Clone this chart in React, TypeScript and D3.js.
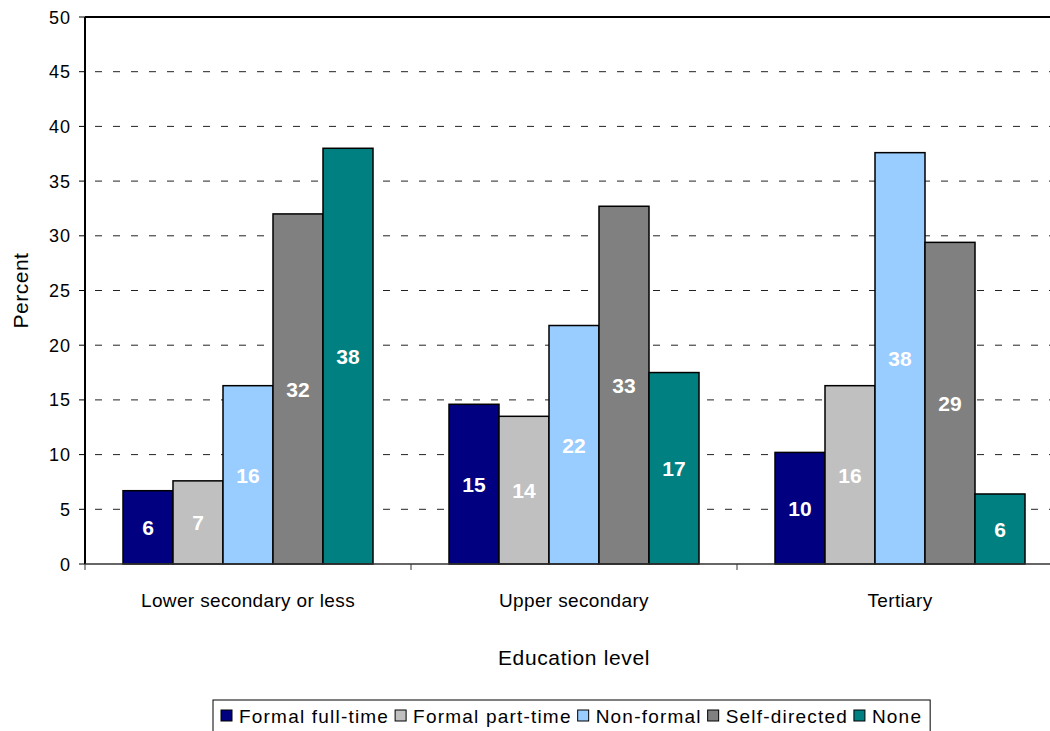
import React, { useEffect, useRef } from "react";
import * as d3 from "d3";

const categories = ["Lower secondary or less", "Upper secondary", "Tertiary"];
const seriesNames = ["Formal full-time", "Formal part-time", "Non-formal", "Self-directed", "None"];
const seriesColors = ["#000080", "#C0C0C0", "#99CCFF", "#808080", "#008080"];
// values per category (order of seriesNames)
const lowerSecondary = [6.7, 7.6, 16.3, 32.0, 38.0];
const upperSecondary = [14.6, 13.5, 21.8, 32.7, 17.5];
const tertiary = [10.2, 16.3, 37.6, 29.4, 6.4];
const lowerSecondaryLabels = ["6", "7", "16", "32", "38"];
const upperSecondaryLabels = ["15", "14", "22", "33", "17"];
const tertiaryLabels = ["10", "16", "38", "29", "6"];
const yTicks = [0, 5, 10, 15, 20, 25, 30, 35, 40, 45, 50];

const W = 1050;
const H = 731;
const FONT = "'Liberation Sans', Arial, sans-serif";

export default function App() {
  const ref = useRef<SVGSVGElement>(null);

  useEffect(() => {
    const svg = d3.select(ref.current);
    svg.selectAll("*").remove();

    const left = 85, top = 17, right = 1063, bottom = 564;
    const values = [lowerSecondary, upperSecondary, tertiary];
    const labels = [lowerSecondaryLabels, upperSecondaryLabels, tertiaryLabels];

    const x0 = d3.scaleBand().domain(categories).range([left, right]).paddingInner(0).paddingOuter(0);
    // bars occupy 250 of 326 px: 38px each side
    const x1 = d3.scaleBand().domain(seriesNames).range([38, x0.bandwidth() - 38]).paddingInner(0).paddingOuter(0);
    const y = d3.scaleLinear().domain([0, 50]).range([bottom, top]);

    // grid lines
    svg.append("g")
      .selectAll("line")
      .data(yTicks.filter((t) => t > 0 && t < 50))
      .join("line")
      .attr("x1", left + 10)
      .attr("x2", right)
      .attr("y1", (d) => y(d))
      .attr("y2", (d) => y(d))
      .attr("stroke", "#222")
      .attr("stroke-width", 1)
      .attr("stroke-dasharray", "7,11");

    // top border
    svg.append("line")
      .attr("x1", left).attr("x2", right)
      .attr("y1", top).attr("y2", top)
      .attr("stroke", "#000").attr("stroke-width", 2);

    // bars
    categories.forEach((cat, ci) => {
      const g = svg.append("g").attr("transform", `translate(${x0(cat)},0)`);
      seriesNames.forEach((s, si) => {
        const v = values[ci][si];
        g.append("rect")
          .attr("x", x1(s)!)
          .attr("y", y(v))
          .attr("width", x1.bandwidth())
          .attr("height", y(0) - y(v))
          .attr("fill", seriesColors[si])
          .attr("stroke", "#000")
          .attr("stroke-width", 1.5);
        g.append("text")
          .attr("x", x1(s)! + x1.bandwidth() / 2)
          .attr("y", (y(v) + y(0)) / 2 + 8)
          .attr("text-anchor", "middle")
          .attr("fill", "#fff")
          .attr("font-family", FONT)
          .attr("font-size", 21)
          .attr("font-weight", "bold")
          .text(labels[ci][si]);
      });
    });

    // y axis
    svg.append("line")
      .attr("x1", left).attr("x2", left)
      .attr("y1", top).attr("y2", bottom)
      .attr("stroke", "#000").attr("stroke-width", 2);
    const yt = svg.append("g");
    yTicks.forEach((t) => {
      yt.append("line")
        .attr("x1", left - 6).attr("x2", left)
        .attr("y1", y(t)).attr("y2", y(t))
        .attr("stroke", "#000").attr("stroke-width", 1);
      yt.append("text")
        .attr("x", left - 14)
        .attr("y", y(t) + 6.5)
        .attr("text-anchor", "end")
        .attr("font-family", FONT)
        .attr("font-size", 18)
        .attr("letter-spacing", 1)
        .attr("fill", "#000")
        .text(String(t));
    });

    // x axis
    svg.append("line")
      .attr("x1", left).attr("x2", right)
      .attr("y1", bottom).attr("y2", bottom)
      .attr("stroke", "#333").attr("stroke-width", 1.5);
    [left, x0(categories[1])!, x0(categories[2])!].forEach((xx) => {
      svg.append("line")
        .attr("x1", xx).attr("x2", xx)
        .attr("y1", bottom).attr("y2", bottom + 6)
        .attr("stroke", "#333").attr("stroke-width", 1);
    });
    categories.forEach((c) => {
      svg.append("text")
        .attr("x", x0(c)! + x0.bandwidth() / 2)
        .attr("y", 607)
        .attr("text-anchor", "middle")
        .attr("font-family", FONT)
        .attr("font-size", 19)
        .attr("letter-spacing", 0.35)
        .attr("fill", "#000")
        .text(c);
    });

    // axis titles
    svg.append("text")
      .attr("x", (left + right) / 2)
      .attr("y", 665)
      .attr("text-anchor", "middle")
      .attr("font-family", FONT)
      .attr("font-size", 21)
      .attr("letter-spacing", 0.65)
      .attr("fill", "#000")
      .text("Education level");
    svg.append("text")
      .attr("transform", `translate(28,${(top + bottom) / 2}) rotate(-90)`)
      .attr("text-anchor", "middle")
      .attr("font-family", FONT)
      .attr("font-size", 21)
      .attr("letter-spacing", 0.5)
      .attr("fill", "#000")
      .text("Percent");

    // legend
    const lg = svg.append("g");
    const box = lg.append("rect")
      .attr("fill", "#fff").attr("stroke", "#000").attr("stroke-width", 1);
    let cx = 221;
    const ly = 723;
    seriesNames.forEach((s, i) => {
      lg.append("rect")
        .attr("x", cx).attr("y", ly - 13).attr("width", 11).attr("height", 11)
        .attr("fill", seriesColors[i]).attr("stroke", "#000").attr("stroke-width", 1);
      const t = lg.append("text")
        .attr("x", cx + 18).attr("y", ly)
        .attr("font-family", FONT).attr("font-size", 19)
        .attr("letter-spacing", 1.2).attr("fill", "#000")
        .text(s);
      const w = (t.node() as SVGTextElement).getComputedTextLength();
      cx = cx + 18 + w + 6;
    });
    box.attr("x", 213).attr("y", 700).attr("width", cx - 213 + 2).attr("height", 40);
  }, []);

  return (
    <svg
      ref={ref}
      width={W}
      height={H}
      style={{ position: "absolute", left: 0, top: 0, background: "#fff" }}
    />
  );
}
